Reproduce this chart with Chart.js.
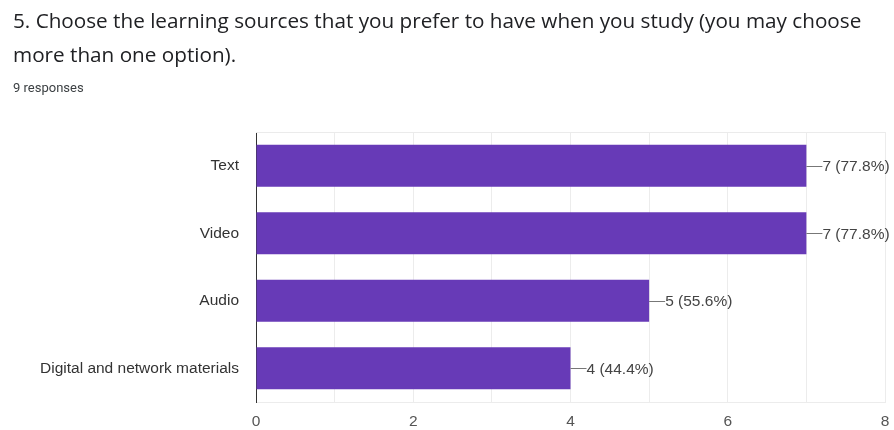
<!DOCTYPE html>
<html>
<head>
<meta charset="utf-8">
<script src="https://cdn.jsdelivr.net/npm/chart.js@4"></script>
<style>
  html, body { margin: 0; padding: 0; background: #fff; }
  #wrap { position: relative; width: 894px; height: 430px; overflow: hidden; }
  #chart { position: absolute; left: 0; top: 0; }
  .title { position: absolute; left: 13px; top: 3px; width: 885px; white-space: nowrap; font-family: "Open Sans", Roboto, sans-serif; font-size: 20.7px; line-height: 34px; color: #202124; }
  .sub { position: absolute; left: 13px; top: 80px; font-family: Roboto, "Noto Sans", sans-serif; font-size: 13px; color: #3c4043; }
</style>
</head>
<body>
<div id="wrap">
  <canvas id="chart" width="894" height="430"></canvas>
  <div class="title">5. Choose the learning sources that you prefer to have when you study (you may choose<br>more than one option).</div>
  <div class="sub">9 responses</div>
</div>
<script>
// answers, counts out of 9 responses
const sources = ['Text', 'Video', 'Audio', 'Digital and network materials'];
const counts = [7, 7, 5, 4];
const percents = ['77.8%', '77.8%', '55.6%', '44.4%'];
const xTicks = [0, 2, 4, 6, 8];

const labelFont = '"Liberation Sans", Arial, sans-serif';

// value labels with a short leader line, plus the faint top frame line
const valueLabels = {
    id: 'valueLabels',
    afterDatasetsDraw(chart) {
        const ctx = chart.ctx;
        const area = chart.chartArea;
        ctx.save();
        ctx.strokeStyle = '#ebebeb';
        ctx.lineWidth = 1;
        ctx.beginPath();
        ctx.moveTo(area.left, area.top + 0.5);
        ctx.lineTo(area.right, area.top + 0.5);
        ctx.stroke();

        const meta = chart.getDatasetMeta(0);
        ctx.font = '15.5px ' + labelFont;
        ctx.fillStyle = '#444';
        ctx.textBaseline = 'middle';
        meta.data.forEach((bar, i) => {
            ctx.strokeStyle = '#777';
            ctx.beginPath();
            ctx.moveTo(bar.x, Math.round(bar.y) + 0.5);
            ctx.lineTo(bar.x + 16, Math.round(bar.y) + 0.5);
            ctx.stroke();
            ctx.fillText(counts[i] + ' (' + percents[i] + ')', bar.x + 16, bar.y + 1);
        });
        ctx.restore();
    }
};

const ctx = document.getElementById('chart').getContext('2d');
const chart = new Chart(ctx, {
    type: 'bar',
    data: {
        labels: sources,
        datasets: [{
            data: counts,
            backgroundColor: '#673ab7',
            borderWidth: 0,
            barPercentage: 0.62,
            categoryPercentage: 1
        }]
    },
    options: {
        indexAxis: 'y',
        responsive: false,
        animation: false,
        layout: { padding: { top: 132, right: 9, bottom: 0, left: 0 } },
        plugins: {
            legend: { display: false },
            tooltip: { enabled: false }
        },
        scales: {
            x: {
                min: xTicks[0],
                max: xTicks[xTicks.length - 1],
                ticks: {
                    stepSize: 1,
                    padding: 10,
                    color: '#555',
                    font: { family: labelFont, size: 15.5 },
                    callback: v => xTicks.includes(v) ? v : ''
                },
                grid: { color: '#ececec', drawTicks: false },
                border: { color: '#ececec' },
                afterFit(scale) {
                    scale.height = 28;
                    scale.paddingLeft = 0;
                    scale.paddingRight = 0;
                }
            },
            y: {
                ticks: {
                    padding: 17,
                    color: '#333',
                    font: { family: labelFont, size: 15.5 }
                },
                grid: { display: false, drawTicks: false },
                border: { color: '#333', width: 1 },
                afterFit(scale) { scale.width = 256; }
            }
        }
    },
    plugins: [valueLabels]
});
</script>
</body>
</html>
